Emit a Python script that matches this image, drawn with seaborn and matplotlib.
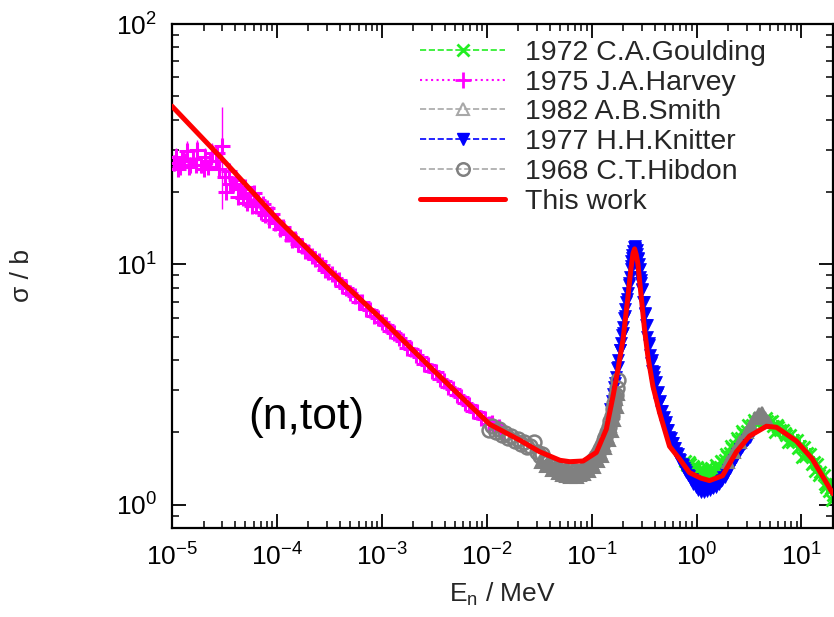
import matplotlib
matplotlib.use("Agg")
import matplotlib.pyplot as plt
import seaborn as sns
from matplotlib.lines import Line2D
from matplotlib.ticker import LogLocator, NullFormatter

# ---------------- data ----------------
red_E = [1e-5, 3e-5, 1e-4, 3.2e-4, 1e-3, 3e-3, 1.07e-2, 2e-2, 3.2e-2, 5e-2, 6.2e-2,
         8.3e-2, 0.111, 0.138, 0.16, 0.178, 0.199, 0.222, 0.235, 0.248, 0.257, 0.266,
         0.276, 0.297, 0.32, 0.344, 0.384, 0.444, 0.553, 0.689, 0.857, 1.1, 1.33, 1.77,
         2.4, 3.2, 4.64, 5.78, 8.96, 12.7, 20.0]
red_s = [45.5, 27.5, 15.5, 9.4, 5.9, 3.68, 2.16, 1.87, 1.66, 1.53, 1.51,
         1.52, 1.65, 2.06, 2.83, 3.65, 4.85, 7.33, 9.3, 11.1, 11.6, 11.0,
         10.1, 7.33, 5.33, 4.14, 3.11, 2.42, 1.75, 1.55, 1.36, 1.29, 1.26, 1.32,
         1.66, 1.93, 2.12, 2.10, 1.84, 1.55, 1.11]

# Harvey 1975 (with error bars)
harvey_E = [1.05e-5, 1.1e-5, 1.2e-5, 1.3e-5, 1.4e-5, 1.5e-5, 1.6e-5, 1.75e-5, 1.9e-5,
            2.05e-5, 2.2e-5, 2.4e-5, 2.6e-5, 2.8e-5, 3.0e-5, 3.2e-5, 3.5e-5, 3.8e-5,
            4.1e-5, 4.5e-5, 5.0e-5, 5.5e-5, 6.0e-5, 6.6e-5, 7.3e-5, 8.0e-5, 9.0e-5,
            1.0e-4, 1.15e-4, 1.3e-4, 1.5e-4, 1.75e-4, 2.0e-4, 2.3e-4, 2.7e-4, 3.1e-4,
            3.6e-4, 4.2e-4, 5.0e-4, 6.0e-4, 7.0e-4, 8.5e-4, 1.0e-3, 1.2e-3, 1.45e-3,
            1.75e-3, 2.1e-3, 2.5e-3, 3.0e-3, 3.6e-3, 4.3e-3, 5.2e-3, 6.2e-3, 7.4e-3,
            8.8e-3, 1.05e-2, 1.2e-2, 1.4e-2]
harvey_s = [26.5, 28.0, 25.5, 27.0, 29.5, 26.0, 27.5, 30.0, 26.0,
            28.0, 25.5, 29.0, 27.0, 25.0, 31.0, 23.0, 24.5, 21.5,
            22.5, 20.5, 21.0, 19.5, 19.8, 18.5, 17.8, 17.2, 16.2,
            15.0, 14.3, 13.4, 12.8, 11.9, 11.3, 10.5, 9.95, 9.3,
            8.8, 8.1, 7.6, 7.0, 6.55, 6.1, 5.75, 5.3, 4.95,
            4.5, 4.2, 3.85, 3.6, 3.32, 3.1, 2.85, 2.66, 2.46,
            2.3, 2.16, 2.08, 2.02]
harvey_err = [2.0, 2.5, 1.8, 2.2, 3.0, 2.0, 2.4, 3.0, 2.0,
              2.5, 1.8, 3.0, 2.2, 1.8, 14.0, 1.5, 1.5, 1.3,
              1.2, 1.0, 1.0, 0.9, 0.8, 0.7, 0.6, 0.5, 0.5,
              0.4, 0.4, 0.3, 0.3, 0.3, 0.3, 0.2, 0.2, 0.2,
              0.2, 0.2, 0.2, 0.1, 0.1, 0.1, 0.1, 0.1, 0.1,
              0.1, 0.1, 0.1, 0.1, 0.1, 0.1, 0.1, 0.1, 0.1,
              0.1, 0.1, 0.1, 0.1]
harvey_E_b = [1.15e-5, 1.25e-5, 1.45e-5, 1.7e-5, 2.0e-5, 2.3e-5, 2.7e-5, 3.3e-5, 3.6e-5,
              4.3e-5, 4.8e-5, 5.2e-5, 5.8e-5, 6.3e-5, 7.0e-5, 7.7e-5, 8.5e-5, 9.5e-5,
              1.07e-4, 1.22e-4, 1.4e-4, 1.6e-4, 1.85e-4, 2.15e-4, 2.5e-4, 2.9e-4, 3.35e-4,
              3.9e-4, 4.6e-4, 5.5e-4, 6.5e-4, 7.7e-4, 9.2e-4, 1.1e-3, 1.32e-3, 1.6e-3,
              1.9e-3, 2.3e-3, 2.75e-3, 3.3e-3, 3.95e-3, 4.75e-3, 5.7e-3, 6.8e-3, 8.1e-3,
              9.6e-3, 1.12e-2, 1.3e-2]
harvey_s_b = [25.0, 27.5, 25.5, 26.0, 25.0, 27.0, 29.0, 20.0, 21.5,
              19.0, 18.8, 18.0, 17.5, 17.5, 16.5, 16.0, 15.3, 14.8,
              14.0, 13.4, 12.6, 12.2, 11.4, 10.8, 10.3, 9.5, 9.1,
              8.6, 8.0, 7.4, 6.95, 6.45, 6.0, 5.6, 5.2, 4.8,
              4.45, 4.1, 3.8, 3.55, 3.28, 3.02, 2.8, 2.6, 2.43,
              2.27, 2.18, 2.10]

# Goulding 1972
goulding_E = [0.78, 0.82, 0.86, 0.9, 0.95, 1.0, 1.05, 1.1, 1.16, 1.22, 1.28, 1.35, 1.42,
              1.5, 1.58, 1.67, 1.76, 1.86, 1.96, 2.07, 2.2, 2.35, 2.5, 2.65, 2.8, 3.0,
              3.2, 3.4, 3.6, 3.85, 4.1, 4.4, 4.7, 5.0, 5.4, 5.8, 6.2, 6.7, 7.2, 7.8,
              8.4, 9.0, 9.7, 10.5, 11.3, 12.2, 13.1, 14.1, 15.2, 16.4, 17.6, 19.0, 20.0]
goulding_s = [1.52, 1.46, 1.47, 1.40, 1.42, 1.37, 1.40, 1.35, 1.38, 1.34, 1.37, 1.35, 1.39,
              1.38, 1.43, 1.44, 1.50, 1.53, 1.60, 1.64, 1.72, 1.78, 1.86, 1.90, 1.98, 2.03,
              2.10, 2.14, 2.20, 2.22, 2.26, 2.24, 2.22, 2.20, 2.12, 2.14, 2.05, 2.04, 1.95, 1.95,
              1.85, 1.86, 1.76, 1.74, 1.64, 1.62, 1.50, 1.47, 1.37, 1.33, 1.22, 1.17, 1.10]
goulding_err = [0.06, 0.06, 0.06, 0.06, 0.06, 0.06, 0.06, 0.06, 0.06, 0.06, 0.06, 0.06, 0.06,
                0.06, 0.06, 0.06, 0.07, 0.07, 0.07, 0.07, 0.08, 0.08, 0.08, 0.08, 0.09, 0.09,
                0.10, 0.10, 0.10, 0.10, 0.11, 0.11, 0.11, 0.11, 0.11, 0.11, 0.11, 0.11, 0.11, 0.11,
                0.11, 0.11, 0.11, 0.11, 0.10, 0.10, 0.10, 0.10, 0.09, 0.09, 0.09, 0.08, 0.08]
goulding_E_b = [0.84, 0.93, 1.02, 1.13, 1.25, 1.38, 1.54, 1.72, 1.91, 2.13, 2.42, 2.72,
                3.1, 3.5, 3.95, 4.55, 5.2, 5.6, 6.0, 6.9, 7.5, 8.1, 9.35, 10.1, 10.9,
                12.6, 13.6, 14.6, 16.9, 17.1, 18.4, 19.6]
goulding_s_b = [1.50, 1.45, 1.43, 1.41, 1.42, 1.42, 1.46, 1.52, 1.63, 1.76, 1.90, 2.03,
                2.15, 2.25, 2.30, 2.30, 2.22, 2.00, 2.10, 1.98, 1.82, 1.82, 1.72, 1.58, 1.60,
                1.48, 1.38, 1.33, 1.22, 1.18, 1.14, 1.05]

# Smith 1982
smith_E = [0.04, 0.045, 0.05, 0.055, 0.06, 0.065, 0.07, 0.075, 0.08, 0.09, 0.1, 0.11,
           0.12, 0.13, 0.14, 0.15, 0.16, 0.17, 0.033, 0.037, 0.042, 0.048, 0.052, 0.057,
           0.062, 0.068, 0.073, 0.078, 0.085, 0.095, 0.105, 0.115, 0.125, 0.135, 0.145,
           0.155, 0.165, 0.175, 0.178, 2.0, 2.3, 2.6, 3.0, 3.3, 3.6, 3.9, 4.2, 4.5, 4.8]
smith_s = [1.48, 1.44, 1.40, 1.38, 1.36, 1.35, 1.36, 1.37, 1.38, 1.43, 1.49, 1.56,
           1.65, 1.78, 1.93, 2.12, 2.40, 2.75, 1.50, 1.45, 1.40, 1.36, 1.33, 1.32,
           1.31, 1.32, 1.30, 1.33, 1.34, 1.38, 1.44, 1.52, 1.60, 1.72, 1.86,
           2.02, 2.25, 2.55, 2.90, 1.50, 1.65, 1.82, 2.00, 2.15, 2.30, 2.38, 2.40, 2.30, 2.20]

# Knitter 1977
knitter_E = [0.08, 0.085, 0.09, 0.095, 0.1, 0.15, 0.16, 0.165, 0.17, 0.175, 0.18, 0.185,
             0.19, 0.195, 0.2, 0.205, 0.21, 0.215, 0.22, 0.225, 0.23, 0.235, 0.24, 0.245,
             0.25, 0.255, 0.26, 0.265, 0.27, 0.275, 0.28, 0.285, 0.29, 0.295, 0.3, 0.31,
             0.32, 0.33, 0.34, 0.35, 0.36, 0.37, 0.38, 0.39, 0.4, 0.42, 0.44, 0.46, 0.48,
             0.5, 0.52, 0.55, 0.58, 0.61, 0.64, 0.68, 0.72, 0.76, 0.8, 0.85, 0.9, 0.95,
             1.0, 1.07, 1.14, 1.22, 1.3, 1.4, 1.5, 1.6, 1.7, 1.8, 1.9, 2.0, 2.15, 2.3,
             2.45, 2.6, 2.8, 3.0, 3.2]
knitter_s = [1.35, 1.38, 1.36, 1.40, 1.42, 2.5, 2.9, 3.1, 3.4, 3.7, 4.0, 4.4,
             4.7, 5.1, 5.5, 6.0, 6.5, 7.0, 7.6, 8.2, 8.9, 9.6, 10.3, 10.9,
             11.4, 11.8, 11.7, 11.4, 11.0, 10.6, 10.0, 9.5, 8.9, 8.4, 7.9, 7.0,
             6.2, 5.6, 5.0, 4.6, 4.2, 3.9, 3.6, 3.4, 3.2, 2.9, 2.65, 2.45, 2.3,
             2.15, 2.05, 1.92, 1.80, 1.72, 1.64, 1.55, 1.48, 1.42, 1.37, 1.32, 1.28, 1.25,
             1.22, 1.20, 1.18, 1.17, 1.18, 1.19, 1.21, 1.23, 1.26, 1.30, 1.34, 1.39, 1.46, 1.54,
             1.62, 1.70, 1.78, 1.85, 1.92]
knitter_E_b = [0.155, 0.168, 0.178, 0.188, 0.198, 0.208, 0.218, 0.228, 0.238, 0.243,
               0.258, 0.262, 0.268, 0.278, 0.288, 0.298, 0.305, 0.315, 0.325, 0.335,
               0.355, 0.375, 0.395, 0.41, 0.43, 0.45, 0.47, 0.49, 0.51, 0.535, 0.565,
               0.595, 0.625, 0.66, 0.7, 0.74, 0.78, 0.83, 0.88, 0.93, 0.98, 1.04, 1.1,
               1.18, 1.26, 1.35, 1.45, 1.55, 1.65, 1.75, 1.85, 1.95, 2.07, 2.22, 2.37,
               2.52, 2.7, 2.9, 3.1]
knitter_s_b = [2.7, 3.2, 3.75, 4.4, 5.2, 6.1, 7.2, 8.4, 9.8, 10.6,
               11.6, 11.9, 11.5, 10.5, 9.6, 8.6, 7.8, 7.0, 6.3, 5.6,
               4.7, 4.0, 3.55, 3.25, 2.95, 2.7, 2.45, 2.32, 2.2, 2.05, 1.9,
               1.8, 1.72, 1.62, 1.53, 1.46, 1.40, 1.33, 1.27, 1.22, 1.18, 1.15, 1.13,
               1.13, 1.14, 1.15, 1.17, 1.19, 1.22, 1.27, 1.30, 1.35, 1.42, 1.50, 1.58,
               1.66, 1.74, 1.80, 1.88]

# Hibdon 1968
hibdon_E = [0.0105, 0.0113, 0.0122, 0.013, 0.014, 0.015, 0.016, 0.0172, 0.0185, 0.0198,
            0.021, 0.0225, 0.024, 0.026, 0.028, 0.030, 0.032, 0.034, 0.036, 0.038, 0.041,
            0.044, 0.047, 0.05, 0.054, 0.058, 0.062, 0.066, 0.07, 0.075, 0.08, 0.085, 0.09,
            0.095, 0.1, 0.105, 0.11, 0.115, 0.12, 0.125, 0.13, 0.135, 0.14, 0.145, 0.15,
            0.155, 0.16, 0.165, 0.17, 0.175, 0.18]
hibdon_s = [2.05, 2.12, 2.00, 2.06, 1.95, 1.98, 1.89, 1.93, 1.84, 1.87,
            1.79, 1.82, 1.74, 1.76, 1.82, 1.66, 1.60, 1.62, 1.53, 1.50, 1.47,
            1.45, 1.41, 1.44, 1.38, 1.36, 1.40, 1.35, 1.38, 1.34, 1.37, 1.40, 1.43,
            1.47, 1.52, 1.55, 1.60, 1.64, 1.70, 1.77, 1.85, 1.92, 2.00, 2.10, 2.22,
            2.34, 2.50, 2.66, 2.86, 3.07, 3.30]

legend_labels = ["1972 C.A.Goulding", "1975 J.A.Harvey", "1982 A.B.Smith",
                 "1977 H.H.Knitter", "1968 C.T.Hibdon", "This work"]
x_label = "E$_\\mathrm{n}$ / MeV"
y_label = "σ / b"
reaction_label = "(n,tot)"

# ---------------- style ----------------
sns.set_theme(style="ticks")
plt.rcParams['font.family'] = ['Liberation Sans', 'DejaVu Sans']
plt.rcParams['mathtext.fontset'] = 'custom'
plt.rcParams['mathtext.rm'] = 'Liberation Sans'
plt.rcParams['mathtext.it'] = 'Liberation Sans:italic'
plt.rcParams['mathtext.bf'] = 'Liberation Sans:bold'

C_GREEN = '#22ee22'
C_MAG = '#ff00ff'
C_LGRAY = '#a8a8a8'
C_BLUE = '#0000ff'
C_GRAY = '#808080'
C_RED = '#ff0000'

W, H = 834, 617
fig = plt.figure(figsize=(W / 100, H / 100), dpi=100)
ax = fig.add_axes([172 / W, 1 - 528 / H, (833 - 172) / W, (528 - 24) / H])
ax.set_xscale('log')
ax.set_yscale('log')


def markers(xs, ys, color, marker, ms, mew, face=None, z=3):
    sns.lineplot(x=xs, y=ys, ax=ax, estimator=None, sort=False,
                 linestyle='none', marker=marker, markersize=ms, markeredgewidth=mew,
                 markeredgecolor=color,
                 markerfacecolor=(color if face is None else face),
                 color=color, zorder=z)


# Goulding
ax.errorbar(goulding_E, goulding_s, yerr=goulding_err, fmt='none', ecolor=C_GREEN,
            elinewidth=1.4, zorder=2)
markers(goulding_E, goulding_s, C_GREEN, 'x', 9, 2.0, z=2)
markers(goulding_E_b, goulding_s_b, C_GREEN, 'x', 9, 2.0, z=2)
# Harvey
ax.errorbar(harvey_E, harvey_s, yerr=harvey_err, fmt='none', ecolor=C_MAG,
            elinewidth=1.0, linestyle=':', zorder=3)
markers(harvey_E, harvey_s, C_MAG, '+', 12, 2.2, z=3)
markers(harvey_E_b, harvey_s_b, C_MAG, '+', 12, 2.2, z=3)
# Knitter
markers(knitter_E, knitter_s, C_BLUE, 'v', 8, 0.5, z=4)
markers(knitter_E_b, knitter_s_b, C_BLUE, 'v', 8, 0.5, z=4)
# Smith
markers(smith_E, smith_s, C_GRAY, '^', 9, 1.5, z=5)
# Hibdon
markers(hibdon_E, hibdon_s, C_GRAY, 'o', 10, 1.8, face='none', z=5)
# This work
sns.lineplot(x=red_E, y=red_s, ax=ax, estimator=None, sort=False,
             color=C_RED, linewidth=3.6, zorder=10)

ax.set_xlim(1e-5, 20)
ax.set_ylim(0.8, 100)

ax.xaxis.set_major_locator(LogLocator(base=10, numticks=20))
ax.xaxis.set_minor_locator(LogLocator(base=10, subs=range(2, 10), numticks=100))
ax.xaxis.set_minor_formatter(NullFormatter())
ax.yaxis.set_major_locator(LogLocator(base=10, numticks=20))
ax.yaxis.set_minor_locator(LogLocator(base=10, subs=range(2, 10), numticks=100))
ax.yaxis.set_minor_formatter(NullFormatter())

ax.tick_params(which='both', direction='in', top=True, right=True, colors='black')
ax.tick_params(which='major', length=10, width=1.3, labelsize=19, pad=11)
ax.tick_params(which='minor', length=5, width=1.1)
for sp in ax.spines.values():
    sp.set_linewidth(1.6)
    sp.set_color('black')

ax.set_xlabel(x_label, fontsize=19)
ax.set_ylabel(y_label, fontsize=19)
ax.xaxis.set_label_coords(0.5, -0.105)
ax.yaxis.set_label_coords(-0.209, 0.5)

ax.text(0.203, 0.22, reaction_label, transform=ax.transAxes, fontsize=32,
        ha='center', va='center', color='black')

handles = [
    Line2D([0], [0], color=C_GREEN, ls='--', lw=1.2, marker='x', ms=9, mew=2),
    Line2D([0], [0], color=C_MAG, ls=':', lw=1.5, marker='+', ms=11, mew=2),
    Line2D([0], [0], color=C_LGRAY, ls='--', lw=1.2, marker='^', ms=8, mew=1.5,
           mfc='none', mec=C_LGRAY),
    Line2D([0], [0], color=C_BLUE, ls='--', lw=1.2, marker='v', ms=9, mfc=C_BLUE, mec=C_BLUE),
    Line2D([0], [0], color=C_LGRAY, ls='--', lw=1.2, marker='o', ms=9, mew=1.8,
           mfc='none', mec=C_GRAY),
    Line2D([0], [0], color=C_RED, ls='-', lw=3.6),
]
ax.legend(handles, legend_labels, loc='upper left', bbox_to_anchor=(420 / W, 1 - 40 / H),
          bbox_transform=fig.transFigure, frameon=False, fontsize=20.5,
          handlelength=3.0, handletextpad=0.7, labelspacing=0.13, borderpad=0,
          borderaxespad=0, numpoints=1)

fig.savefig("out.png", dpi=100)
